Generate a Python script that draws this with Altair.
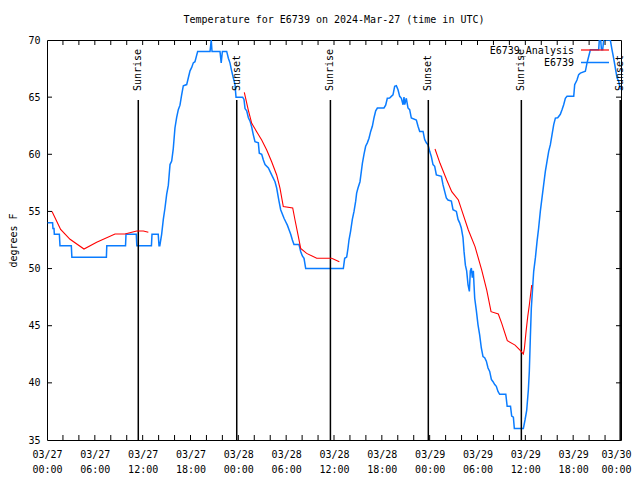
import altair as alt
import pandas as pd

FONT = "DejaVu Sans Mono"
W, H = 574, 400
BLUE = "#0a7cff"
RED = "#ff0000"

# ---- station observations (hours since 2024-03-27 00:00 UTC, deg F) ----
blue_hours = [0.08, 0.7, 0.75, 0.88, 0.92, 1.55, 1.63, 3.05, 3.12, 7.45, 7.5, 9.85, 9.91, 11.2, 11.27,
              13.1, 13.17, 13.95, 14.05, 14.15, 14.38, 14.59, 14.8, 15.01, 15.22, 15.43, 15.64, 15.84,
              16.05, 16.26, 16.47, 16.68, 16.89, 17.1, 17.52, 17.73, 17.94, 18.15, 18.35, 18.56, 18.9,
              20.45, 20.6, 20.7, 21.7, 21.85, 22.0, 22.54, 22.75, 22.95, 23.16, 23.37, 23.58, 23.71,
              24.54, 24.71, 24.84, 25.05, 25.26, 25.47, 25.67, 25.88, 26.09, 26.51, 26.63, 26.93, 27.14,
              27.35, 27.77, 28.18, 28.6, 28.81, 29.02, 29.1, 29.31, 29.73, 29.94, 30.15, 30.36, 30.57,
              30.78, 30.98, 31.61, 31.82, 32.03, 32.24, 32.45, 37.17, 37.34, 37.59, 37.76, 37.88, 38.09,
              38.3, 38.51, 38.72, 38.84, 39.01, 39.26, 39.43, 39.56, 39.76, 39.97, 40.18, 40.39, 40.6,
              40.81, 41.02, 41.23, 41.44, 42.27, 42.48, 42.69, 42.98, 43.19, 43.4, 43.61, 43.82, 44.03,
              44.24, 44.45, 44.66, 44.78, 44.87, 45.07, 45.28, 45.49, 45.7, 46.33, 46.54, 46.75, 47.17,
              47.37, 47.58, 47.79, 48.0, 48.21, 48.42, 48.63, 48.84, 49.47, 49.67, 49.88, 50.09, 50.3,
              50.72, 50.93, 51.35, 51.56, 51.76, 51.97, 52.18, 52.31, 52.48, 52.64, 52.81, 52.98, 53.1,
              53.23, 53.35, 53.48, 53.56, 53.65, 53.86, 54.06, 54.27, 54.48, 54.69, 54.9, 55.11, 55.32,
              55.53, 55.74, 55.95, 56.16, 56.36, 56.57, 56.78, 57.55, 57.72, 58.14, 58.29, 58.5, 58.62,
              59.75, 59.96, 60.17, 60.38, 60.5, 60.63, 60.75, 60.92, 61.05, 61.26, 61.47, 61.67, 61.88,
              62.09, 62.3, 62.51, 62.72, 62.93, 63.14, 63.35, 63.56, 63.77, 64.06, 64.39, 64.6, 64.81,
              65.02, 65.23, 66.07, 66.19, 66.48, 66.69, 66.9, 67.53, 67.74, 68.16, 69.2, 69.28, 69.45,
              69.55, 69.7, 69.83, 70.66, 70.87, 71.08, 71.29, 71.5, 71.71, 71.92]
blue_temps = [54.0, 54.0, 53.5, 53.5, 53.0, 53.0, 52.0, 52.0, 51.0, 51.0, 52.0, 52.0, 53.0, 53.0, 52.0,
              52.0, 53.0, 53.0, 52.0, 52.0, 53.0, 54.3, 55.3, 56.5, 57.3, 59.1, 59.4, 60.5,
              62.3, 63.2, 63.9, 64.3, 65.2, 66.0, 66.1, 66.7, 67.3, 67.6, 68.0, 68.1, 69.0,
              69.0, 70.0, 69.0, 69.0, 68.0, 69.0, 69.0, 68.4, 68.0, 67.3, 66.7, 66.1, 65.0,
              65.0, 64.8, 64.0, 63.8, 63.2, 62.9, 62.4, 61.7, 61.1, 61.0, 60.1, 60.0, 59.5,
              59.1, 58.8, 58.2, 57.6, 57.05, 56.2, 55.9, 55.15, 54.4, 54.1, 53.8, 53.4, 53.0,
              52.5, 52.1, 52.1, 51.5, 51.1, 50.9, 50.0, 50.0, 50.9, 51.0, 51.8, 52.5, 53.3,
              54.3, 55.0, 55.9, 56.6, 57.05, 57.6, 58.5, 59.2, 60.0, 60.7, 61.0, 61.4, 62.0,
              62.45, 63.2, 63.8, 64.05, 64.05, 64.3, 64.9, 64.93, 65.07, 65.2, 65.95, 66.0, 65.65,
              65.07, 64.9, 64.34, 65.0, 64.34, 64.9, 64.05, 63.9, 63.17, 63.0, 62.45, 62.0, 62.0,
              61.3, 61.0, 60.84, 60.26, 59.8, 59.1, 58.95, 58.2, 58.07, 57.34, 56.76, 56.18, 56.0,
              55.9, 55.15, 55.0, 54.3, 54.0, 53.55, 52.7, 51.5, 50.3, 49.8, 48.6, 48.0, 49.8,
              50.05, 49.2, 49.8, 48.6, 47.4, 46.3, 45.1, 44.2, 43.05, 42.3, 42.2, 41.9, 41.3,
              41.0, 40.3, 40.1, 39.85, 39.7, 39.25, 39.0, 39.0, 37.95, 37.95, 37.1, 37.0, 36.0,
              36.0, 36.75, 37.6, 39.4, 41.0, 44.0, 46.5, 48.4, 49.76, 50.93, 52.38, 53.55, 55.0,
              56.18, 57.34, 58.51, 59.38, 60.26, 60.84, 61.72, 62.59, 63.17, 63.2, 63.5, 63.9, 64.34,
              64.9, 65.07, 65.07, 66.09, 66.5, 66.97, 67.1, 67.26, 67.99, 69.15, 69.15, 70.0, 70.0,
              69.15, 69.15, 70.0, 70.0, 69.15, 68.4, 67.55, 66.7, 66.4, 65.65]

# ---- analysis (three separate runs) ----
red_hours = [0.63, 1.71, 2.89, 4.64, 6.23, 8.53, 9.78, 11.25, 12.09, 12.71,
             24.75, 25.25, 25.68, 26.3, 26.93, 27.56, 28.18, 28.81, 29.23, 29.64, 30.82, 31.11,
             31.53, 31.82, 32.57, 33.83, 35.71, 36.67,
             48.67, 49.3, 50.14, 50.77, 51.6, 52.02, 52.85, 53.69, 54.53, 55.16, 55.7, 56.61,
             57.04, 57.74, 58.71, 59.33, 59.75, 59.88, 60.09, 60.3, 60.5, 60.8]
red_temps = [55.0, 53.43, 52.56, 51.71, 52.3, 53.02, 53.02, 53.29, 53.29, 53.17,
             65.42, 63.87, 62.71, 61.98, 61.25, 60.38, 59.35, 58.19, 57.02, 55.42, 55.3, 54.25,
             52.79, 51.77, 51.33, 50.9, 50.9, 50.6,
             60.46, 59.21, 57.75, 56.73, 56.0, 55.12, 53.38, 51.92, 49.87, 48.12, 46.23, 46.02,
             45.21, 43.69, 43.3, 42.87, 42.53, 43.0, 44.48, 45.79, 46.81, 48.56]
red_segment = [1] * 10 + [2] * 18 + [3] * 22

sun_hours = [11.45, 23.8, 35.55, 47.83, 59.5, 71.9]
sun_labels = ["Sunrise", "Sunset", "Sunrise", "Sunset", "Sunrise", "Sunset"]

x_label_hours = list(range(0, 73, 6))
x_tick_hours = list(range(2, 72, 2))
y_tick_values = [40, 45, 50, 55, 60, 65]
y_label_values = [35, 40, 45, 50, 55, 60, 65, 70]

legend_names = ["E6739_Analysis", "E6739"]
legend_colors = [RED, BLUE]
title_text = "Temperature for E6739 on 2024-Mar-27 (time in UTC)"

blue_df = pd.DataFrame({"hour": blue_hours, "temp": blue_temps})
red_df = pd.DataFrame({"hour": red_hours, "temp": red_temps, "seg": red_segment})
sun_df = pd.DataFrame({"hour": sun_hours, "label": sun_labels})
xt_df = pd.DataFrame({"hour": x_tick_hours})
yt_df = pd.DataFrame({"temp": y_tick_values})

xscale = alt.Scale(domain=[0, 72], nice=False, zero=False)
yscale = alt.Scale(domain=[35, 70], nice=False, zero=False)

x_axis = alt.Axis(
    values=x_label_hours,
    labelExpr="['03/' + (27 + floor(datum.value / 24)), (datum.value % 24 < 10 ? '0' : '') + (datum.value % 24) + ':00']",
    ticks=False, domain=False, grid=False, title=None,
    labelFont=FONT, labelFontSize=10, labelColor="black", labelPadding=9,
    labelLineHeight=15, labelFlush=False, labelOverlap=False,
    labelOffset={"condition": {"test": "datum.value >= 72", "value": -5}, "value": 0},
)
y_axis = alt.Axis(
    values=y_label_values, ticks=False, domain=False, grid=False,
    labelFont=FONT, labelFontSize=10, labelColor="black", labelPadding=7,
    title="degrees F", titleFont=FONT, titleFontSize=10, titleFontWeight="normal",
    titleColor="black", titleX=-34, titleY=200, titleAngle=270,
    titleAlign="center", titleBaseline="middle",
)

XQ = alt.X("hour:Q", scale=xscale, axis=x_axis)
YQ = alt.Y("temp:Q", scale=yscale, axis=y_axis)

blue_line = alt.Chart(blue_df).mark_line(color=BLUE, strokeWidth=1.5, clip=True).encode(
    x=XQ, y=YQ,
)

red_line = alt.Chart(red_df).mark_line(color=RED, strokeWidth=1.1, clip=True).encode(
    x=XQ, y=YQ, detail="seg:N",
)

sun_rules = alt.Chart(sun_df).mark_rule(color="black", strokeWidth=1.5).encode(
    x=XQ, y=alt.value(60), y2=alt.value(H),
)
sun_text = alt.Chart(sun_df).mark_text(
    angle=270, align="left", baseline="middle", font=FONT, fontSize=10, color="black"
).encode(
    x=XQ, y=alt.value(51), text="label:N",
)

tick_bottom = alt.Chart(xt_df).mark_rule(color="black", strokeWidth=1).encode(
    x=XQ, y=alt.value(H), y2=alt.value(H - 5))
tick_top = alt.Chart(xt_df).mark_rule(color="black", strokeWidth=1).encode(
    x=XQ, y=alt.value(0), y2=alt.value(5))
tick_left = alt.Chart(yt_df).mark_rule(color="black", strokeWidth=1).encode(
    y=YQ, x=alt.value(0), x2=alt.value(5))
tick_right = alt.Chart(yt_df).mark_rule(color="black", strokeWidth=1).encode(
    y=YQ, x=alt.value(W), x2=alt.value(W - 5))

leg_df0 = pd.DataFrame({"name": [legend_names[0]]})
leg_df1 = pd.DataFrame({"name": [legend_names[1]]})
leg_text0 = alt.Chart(leg_df0).mark_text(
    align="right", baseline="middle", font=FONT, fontSize=10, color="black"
).encode(x=alt.value(527), y=alt.value(10.5), text="name:N")
leg_text1 = alt.Chart(leg_df1).mark_text(
    align="right", baseline="middle", font=FONT, fontSize=10, color="black"
).encode(x=alt.value(527), y=alt.value(23), text="name:N")
leg_line0 = alt.Chart(leg_df0).mark_rule(strokeWidth=1.2, color=legend_colors[0]).encode(
    x=alt.value(534), x2=alt.value(562), y=alt.value(10))
leg_line1 = alt.Chart(leg_df1).mark_rule(strokeWidth=1.5, color=legend_colors[1]).encode(
    x=alt.value(534), x2=alt.value(562), y=alt.value(22.5))

title_df = pd.DataFrame({"t": [title_text]})
title_mark = alt.Chart(title_df).mark_text(
    align="center", baseline="middle", font=FONT, fontSize=10, color="black"
).encode(x=alt.value(W / 2), y=alt.value(-20), text="t:N")

chart = alt.layer(
    blue_line, sun_rules, sun_text, red_line,
    tick_bottom, tick_top, tick_left, tick_right,
    leg_text0, leg_text1, leg_line0, leg_line1, title_mark,
).properties(
    width=W, height=H,
    autosize=alt.AutoSizeParams(type="none"),
    padding={"left": 39, "top": 32, "right": 11, "bottom": 40},
).configure_view(stroke="black", strokeWidth=1).configure_axis(grid=False)

chart.save("out.html", embed_options={"renderer": "svg", "actions": False})
